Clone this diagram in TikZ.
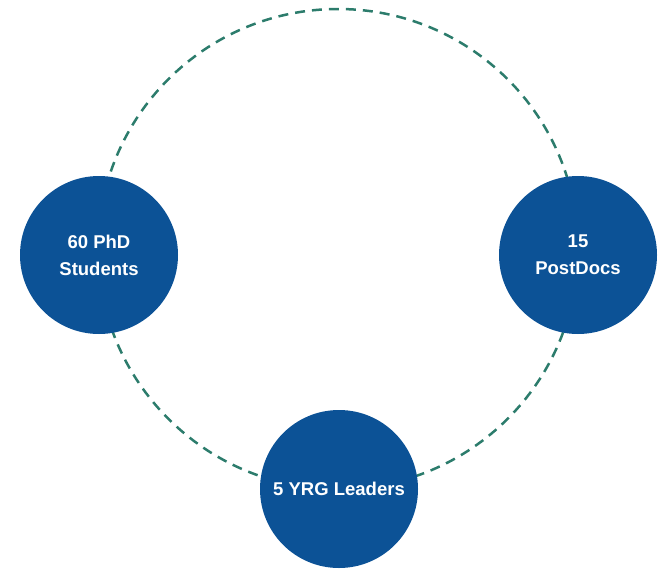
\documentclass[tikz,border=0pt]{standalone}
\usepackage{fontspec}
\setmainfont{Liberation Sans}
\definecolor{ringteal}{RGB}{44,124,108}
\definecolor{discblue}{RGB}{12,82,150}
\begin{document}
\begin{tikzpicture}[x=1pt,y=-1pt,
  disc/.style={circle,fill=discblue,minimum size=158pt,inner sep=0pt,
    text=white,font=\fontsize{18.5}{27}\selectfont\bfseries,align=center},
  ring/.style={draw=ringteal,line width=2.5pt,dash pattern=on 10pt off 7pt}]
\useasboundingbox (0,0) rectangle (663,570);
\coordinate (hub) at (338,249);
\draw[ring] (hub) circle[radius=240];
\node[disc] (phd) at (99,255) {60 PhD\\Students};
\node[disc] (post) at (578,255) {15\\PostDocs};
\node[disc] (yrg) at (339,489) {5 YRG Leaders};
\end{tikzpicture}
\end{document}
